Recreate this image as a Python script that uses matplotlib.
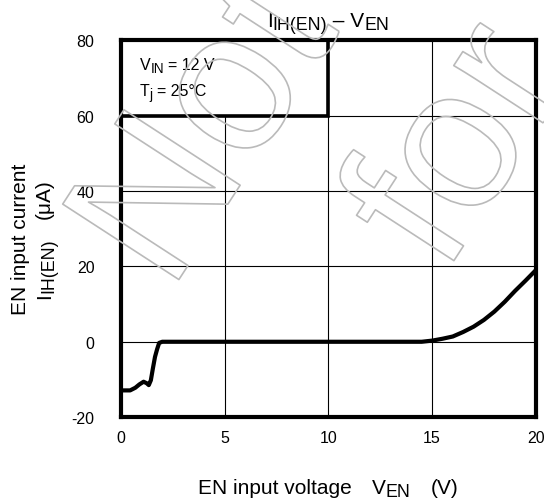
import numpy as np
import matplotlib
matplotlib.use('Agg')
import matplotlib.pyplot as plt
import matplotlib.patheffects as pe
from matplotlib.patches import Rectangle

plt.rcParams['font.family'] = ['Liberation Sans', 'DejaVu Sans']
plt.rcParams['axes.unicode_minus'] = False

W, H, DPI = 544, 502, 100

# EN input voltage (V) vs EN input current (uA)
v_en = [0.0, 0.45, 0.7, 0.9, 1.1, 1.25, 1.35, 1.45, 1.55, 1.65, 1.75, 1.85, 2.0,
        14.5, 15.0, 15.5, 16.0, 16.5, 17.0, 17.5, 18.0, 18.5, 19.0, 19.5, 20.0]
i_en = [-12.9, -12.9, -12.2, -11.3, -10.6, -11.0, -11.5, -10.2, -7.0, -4.0, -2.0, -0.3, 0.0,
        0.0, 0.3, 0.8, 1.4, 2.6, 4.0, 5.8, 8.0, 10.6, 13.5, 16.2, 19.0]

x_ticks = [0, 5, 10, 15, 20]
y_ticks = [-20, 0, 20, 40, 60, 80]

fig = plt.figure(figsize=(W / DPI, H / DPI), dpi=DPI)
ax = fig.add_axes([0.222, 0.167, 0.763, 0.751])
renderer = fig.canvas.get_renderer()


def draw_runs(xpx, ypx, runs, size, rot=0, ha='center'):
    # runs: (text, is_subscript, gap_after_px); xpx/ypx from top-left of picture
    widths = []
    for s, sub, gap in runs:
        t = fig.text(0, 0, s, fontsize=size * 0.85 if sub else size)
        widths.append(t.get_window_extent(renderer).width)
        t.remove()
    total = sum(widths) + sum(r[2] for r in runs[:-1])
    th = np.deg2rad(rot)
    ux, uy = np.cos(th), np.sin(th)
    nx, ny = -np.sin(th), np.cos(th)
    x0, y0 = xpx, H - ypx
    pos = -total / 2 if ha == 'center' else 0
    for (s, sub, gap), w in zip(runs, widths):
        fs = size * 0.85 if sub else size
        drop = size * DPI / 72 * 0.16 if sub else 0
        px = x0 + pos * ux - drop * nx
        py = y0 + pos * uy - drop * ny
        fig.text(px / W, py / H, s, fontsize=fs, rotation=rot, rotation_mode='anchor',
                 ha='left', va='baseline')
        pos += w + gap


ax.plot(v_en, i_en, color='black', lw=3.0, solid_capstyle='butt', zorder=3)
ax.set_xlim(0, 20)
ax.set_ylim(-20, 80)
ax.set_xticks(x_ticks)
ax.set_yticks(y_ticks)
ax.grid(True, color='black', lw=0.8)
ax.tick_params(length=0, labelsize=11.5)
ax.tick_params(axis='x', pad=9)
ax.tick_params(axis='y', pad=19)
for s in ax.spines.values():
    s.set_linewidth(3.0)
    s.set_zorder(5)

# conditions box
ax.add_patch(Rectangle((0, 60), 10, 20, facecolor='white', edgecolor='black', lw=2.6, zorder=2))
draw_runs(140, 70, [('V', 0, 0), ('IN', 1, 4), ('= 12 V', 0, 0)], 11.5, ha='left')
draw_runs(140, 96, [('T', 0, 0), ('j', 1, 4), ('= 25°C', 0, 0)], 11.5, ha='left')

# title and axis labels
draw_runs(328, 27, [('I', 0, 0), ('IH(EN)', 1, 0), (' – V', 0, 0), ('EN', 1, 0)], 15)
draw_runs(328, 494, [('EN input voltage', 0, 20), ('V', 0, 0), ('EN', 1, 20), ('(V)', 0, 0)], 15)
draw_runs(26, 239, [('EN input current', 0, 0)], 15, rot=90)
draw_runs(50, 239, [('I', 0, 0), ('IH(EN)', 1, 20), ('(μA)', 0, 0)], 15, rot=90)

# watermark outline
wm = [pe.Stroke(linewidth=1.2, foreground='#bababa')]
fig.text(212 / W, 1 - 135 / H, 'Not', fontsize=145, rotation=57, color=(1, 1, 1, 0),
         ha='center', va='center', path_effects=wm)
fig.text(465 / W, 1 - 150 / H, 'for', fontsize=145, rotation=57, color=(1, 1, 1, 0),
         ha='center', va='center', path_effects=wm)

plt.savefig('out.png', dpi=DPI)
